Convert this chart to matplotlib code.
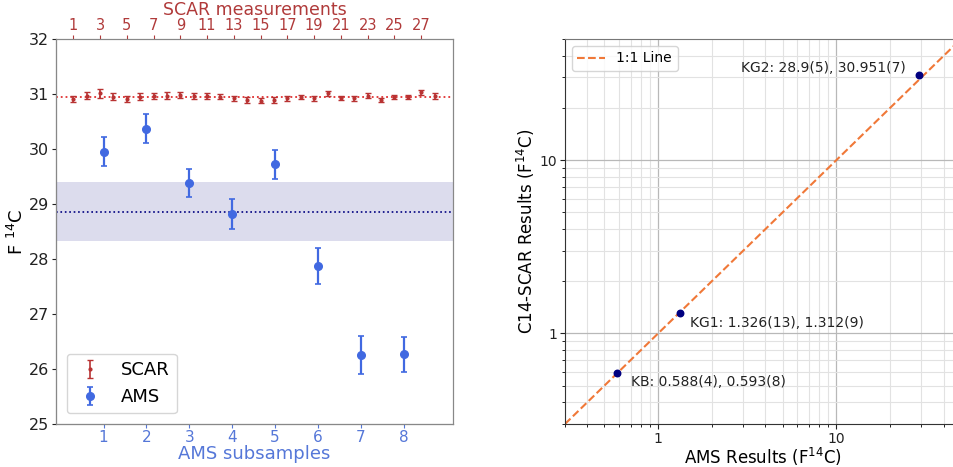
import matplotlib
matplotlib.use("Agg")
import matplotlib.pyplot as plt
import numpy as np
from matplotlib.ticker import LogLocator, NullFormatter, FixedLocator, FixedFormatter

# ---------------- data ----------------
scar_idx = list(range(1, 29))
scar_vals = [30.91, 30.97, 31.01, 30.95, 30.91, 30.95, 30.96, 30.97, 30.98, 30.96,
             30.96, 30.95, 30.92, 30.89, 30.88, 30.89, 30.92, 30.94, 30.92, 31.01,
             30.93, 30.92, 30.97, 30.89, 30.94, 30.95, 31.03, 30.96]
scar_errs = [0.06, 0.07, 0.08, 0.06, 0.06, 0.06, 0.06, 0.06, 0.06, 0.06,
             0.05, 0.05, 0.05, 0.05, 0.04, 0.05, 0.04, 0.04, 0.04, 0.05,
             0.04, 0.04, 0.04, 0.04, 0.04, 0.04, 0.04, 0.05]
scar_mean = 30.951

ams_idx = [1, 2, 3, 4, 5, 6, 7, 8]
ams_vals = [29.95, 30.37, 29.38, 28.82, 29.72, 27.87, 26.25, 26.27]
ams_errs = [0.26, 0.27, 0.26, 0.27, 0.27, 0.33, 0.35, 0.32]
ams_mean = 28.86
ams_band = (28.32, 29.40)

top_ticks = list(range(1, 28, 2))
bottom_ticks = [1, 2, 3, 4, 5, 6, 7, 8]

cmp_names = ["KB", "KG1", "KG2"]
cmp_ams = [0.588, 1.326, 28.9]
cmp_scar = [0.593, 1.312, 30.951]
cmp_labels = ["KB: 0.588(4), 0.593(8)", "KG1: 1.326(13), 1.312(9)", "KG2: 28.9(5), 30.951(7)"]
cmp_offsets = [(10, -7), (7, -7), (-9, 5)]
cmp_ha = ["left", "left", "right"]
line_range = [0.3, 50]

# ---------------- figure ----------------
fig = plt.figure(figsize=(9.54, 4.67), dpi=100)

red = "#b83232"
blue = "royalblue"
tickred = "#b03a3a"
tickblue = "#5577d8"

# left panel
ax = fig.add_axes([0.0587, 0.0921, 0.4161, 0.8244])
ax.set_xlim(-0.11, 9.15)
ax.set_ylim(25, 32)
ax.axhspan(ams_band[0], ams_band[1], color="#dcdced", zorder=0, lw=0)
ax.axhline(ams_mean, color="navy", ls=":", lw=1.2, zorder=1)
h_ams = ax.errorbar(ams_idx, ams_vals, yerr=ams_errs, fmt="o", color=blue,
                    ms=5.5, elinewidth=1.6, capsize=2, capthick=1.2, label="AMS", zorder=3)
ax.set_xticks(bottom_ticks)
ax.tick_params(axis="x", colors=tickblue, labelsize=11, pad=1.5, length=3)
ax.tick_params(axis="y", labelsize=11.5, colors="#222222", pad=2, length=3)
ax.set_xlabel("AMS subsamples", color=tickblue, fontsize=13, labelpad=0)
ax.set_ylabel("F $^{14}$C", fontsize=13, labelpad=1)
for s in ax.spines.values():
    s.set_color("#888888")
ax.spines["left"].set_color("#333333")
ax.spines["bottom"].set_color("#333333")

ax2 = ax.twiny()
ax2.set_xlim(-0.29, 29.37)
ax2.axhline(scar_mean, color="#e03030", ls=":", lw=1.3, zorder=1)
h_scar = ax2.errorbar(scar_idx, scar_vals, yerr=scar_errs, fmt=".", color=red,
                      ms=4, elinewidth=1.2, capsize=2, capthick=1, label="SCAR", zorder=3)
ax2.set_xticks(top_ticks)
ax2.tick_params(axis="x", colors=tickred, labelsize=10.5, pad=1, length=3)
for s in ax2.spines.values():
    s.set_color("#888888")
fig.text(0.2668, 0.997, "SCAR measurements", color=tickred, fontsize=12.5,
         ha="center", va="top")

leg = ax.legend([h_scar, h_ams], ["SCAR", "AMS"], loc="lower left", fontsize=13,
                bbox_to_anchor=(0.0, 0.0), borderaxespad=0.6, handlelength=1.8)

# right panel
bx = fig.add_axes([0.5922, 0.0921, 0.4151, 0.8244])
bx.set_xscale("log")
bx.set_yscale("log")
bx.set_xlim(0.3, 50)
bx.set_ylim(0.3, 50)
bx.grid(True, which="major", color="#b8b8b8", lw=0.9)
bx.grid(True, which="minor", color="#e2e2e2", lw=0.8)
bx.set_axisbelow(True)
bx.plot(line_range, line_range, ls="--", color="#f07838", lw=1.5, label="1:1 Line", zorder=2)
bx.scatter(cmp_ams, cmp_scar, color="navy", s=22, zorder=3)
for xv, yv, lab, off, ha in zip(cmp_ams, cmp_scar, cmp_labels, cmp_offsets, cmp_ha):
    bx.annotate(lab, (xv, yv), xytext=off, textcoords="offset points",
                ha=ha, va="center", fontsize=10, color="#222222")
bx.xaxis.set_major_locator(FixedLocator([1, 10]))
bx.xaxis.set_major_formatter(FixedFormatter(["1", "10"]))
bx.yaxis.set_major_locator(FixedLocator([1, 10]))
bx.yaxis.set_major_formatter(FixedFormatter(["1", "10"]))
bx.xaxis.set_minor_locator(LogLocator(base=10, subs=np.arange(2, 10), numticks=20))
bx.yaxis.set_minor_locator(LogLocator(base=10, subs=np.arange(2, 10), numticks=20))
bx.xaxis.set_minor_formatter(NullFormatter())
bx.yaxis.set_minor_formatter(NullFormatter())
bx.tick_params(labelsize=10, colors="#222222", pad=2)
bx.set_xlabel("AMS Results (F$^{14}$C)", fontsize=12, labelpad=0)
bx.set_ylabel("C14-SCAR Results (F$^{14}$C)", fontsize=12, labelpad=2)
for s in bx.spines.values():
    s.set_color("#777777")
bx.spines["left"].set_color("#333333")
bx.spines["bottom"].set_color("#333333")
bx.legend(loc="upper left", fontsize=10)

fig.savefig("out.png", dpi=100)
